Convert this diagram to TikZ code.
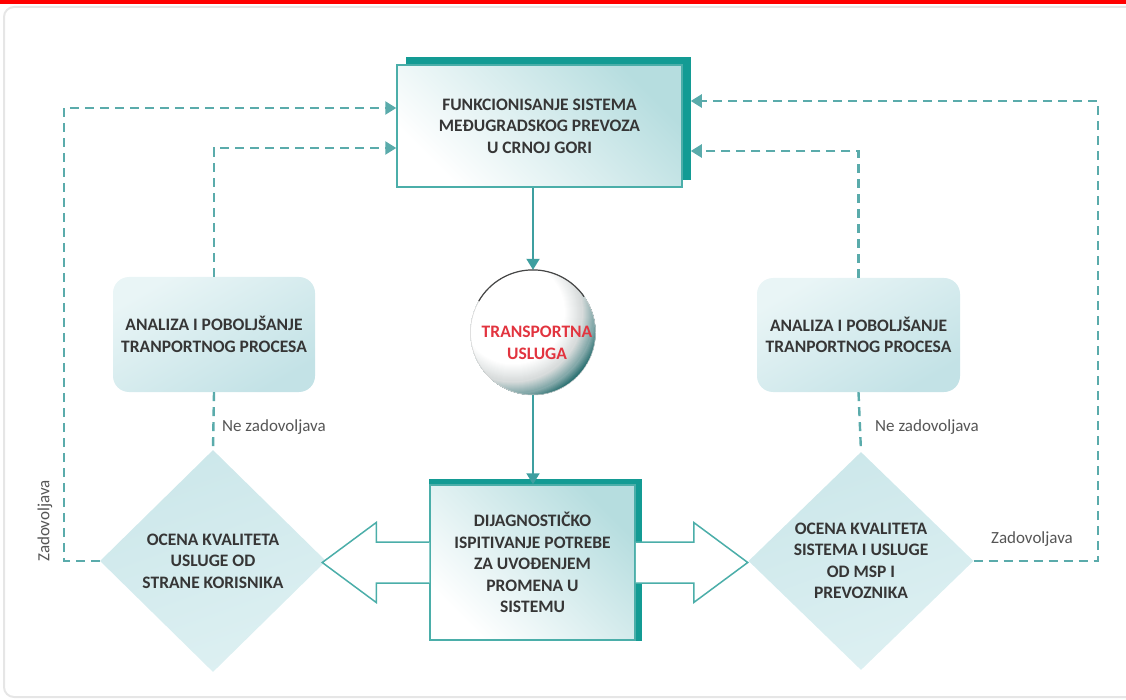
\documentclass[tikz,border=0pt]{standalone}
\usepackage{fontspec}
\setmainfont{Carlito}
\usetikzlibrary{arrows.meta,shapes.geometric,calc,backgrounds}

\definecolor{tealdark}{HTML}{139B94}
\definecolor{boxline}{HTML}{4BAEA9}
\definecolor{boxtint}{HTML}{B6DDDF}
\definecolor{dashline}{HTML}{5AABAB}
\definecolor{flowline}{HTML}{3E9FA0}
\definecolor{ink}{HTML}{363636}
\definecolor{labelink}{HTML}{555555}
\definecolor{servicered}{HTML}{E2343F}
\definecolor{framegray}{HTML}{E6E6E6}
\definecolor{diafill}{HTML}{CCE7EA}
\definecolor{diafillb}{HTML}{DDF0F2}
\definecolor{softtop}{HTML}{E9F5F6}
\definecolor{softbot}{HTML}{C3E2E6}
\definecolor{orbdark}{HTML}{2E7273}
\definecolor{orbmid}{HTML}{86AAAB}
\definecolor{orblight}{HTML}{D8DCDC}

\begin{document}
\begin{tikzpicture}[x=1pt,y=-1pt,
  boxfont/.style={font=\fontsize{17.5}{21.5}\selectfont\bfseries, text=ink, align=center},
  mainbox/.style={boxfont, draw=boxline, line width=1.5pt, shade,
    top color=white, bottom color=boxtint, shading angle=135, inner sep=0pt},
  softbox/.style={boxfont, rounded corners=16pt, shade,
    top color=softtop, bottom color=softbot, shading angle=30, inner sep=0pt},
  decision/.style={boxfont, diamond, shade, top color=diafillb, bottom color=diafill,
    shading angle=200, inner sep=0pt},
  flow/.style={flowline, line width=2pt, -{Triangle[width=13pt,length=11pt]}},
  feedback/.style={dashline, line width=2.4pt, dash pattern=on 9pt off 6pt},
  feedarrow/.style={feedback, -{Triangle[width=13pt,length=11pt]}},
  hollow/.style={draw=boxline, fill=white, line width=1.5pt, line join=miter},
  note/.style={font=\fontsize{17}{20}\selectfont, text=labelink, inner sep=0pt}]

\useasboundingbox (0,0) rectangle (1126,700);

% page frame and top bar
\fill[red] (0,0) rectangle (1126,4.5);
\draw[framegray, line width=2pt, rounded corners=10pt] (4,7) rectangle (1150,697);

% nodes
\node[mainbox, minimum width=285pt, minimum height=122pt] (top) at (539.5,126)
  {FUNKCIONISANJE SISTEMA\\MEĐUGRADSKOG PREVOZA\\U CRNOJ GORI};
\node[circle, minimum size=125pt, inner sep=0pt] (circ) at (533,332.5) {};
\node[mainbox, minimum width=205pt, minimum height=155pt] (low) at (532.5,562.5)
  {DIJAGNOSTIČKO\\ISPITIVANJE POTREBE\\ZA UVOĐENJEM\\PROMENA U\\SISTEMU};
\node[softbox, minimum width=202pt, minimum height=115pt] (lbox) at (214,334.5)
  {ANALIZA I POBOLJŠANJE\\TRANPORTNOG PROCESA};
\node[softbox, minimum width=203pt, minimum height=114pt] (rbox) at (858.5,335)
  {ANALIZA I POBOLJŠANJE\\TRANPORTNOG PROCESA};
\node[decision, minimum width=226pt, minimum height=222pt] (ldia) at (213,561)
  {OCENA KVALITETA\\USLUGE OD\\STRANE KORISNIKA};
\node[decision, minimum width=225pt, minimum height=218pt] (rdia) at (861,561)
  {OCENA KVALITETA\\SISTEMA I USLUGE\\OD MSP I\\PREVOZNIKA};

% thick offset edges behind the two main boxes
\begin{scope}[on background layer]
  \fill[tealdark] ($(top.south west)+(10,-8)$) rectangle ($(top.north east)+(8,-7)$);
  \fill[tealdark] (low.south west) rectangle ($(low.north east)+(6,-5)$);
\end{scope}

% the service sphere: rings of colour around a point up and left of the centre,
% white near that point and dark teal towards the lower right edge
\begin{scope}
  \clip (circ.center) circle[radius=62.5pt];
  \coordinate (glow) at ($(circ.center)+(-20,-20)$);
  \fill[orbdark] (circ.center) circle[radius=62.5pt];
  \foreach \r in {90,89,...,82} {
    \pgfmathtruncatemacro\p{(\r-82)*100/8}
    \fill[orbdark!\p!orbmid] (glow) circle[radius=\r pt];
  }
  \foreach \r in {81,80,...,70} {
    \pgfmathtruncatemacro\p{(\r-70)*100/11}
    \fill[orbmid!\p!orblight] (glow) circle[radius=\r pt];
  }
  \foreach \r in {69,68,...,52} {
    \pgfmathtruncatemacro\p{(\r-52)*100/17}
    \fill[orblight!\p!white] (glow) circle[radius=\r pt];
  }
\end{scope}
\draw[gray!35, line width=0.5pt] (circ.center) circle[radius=62.5pt];
\draw[gray!55!black, line width=1.2pt] (circ.150) arc[start angle=150, end angle=35, radius=62.5pt];
\node[font=\fontsize{17.5}{21.5}\selectfont\bfseries, text=servicered, align=center]
  (circtext) at (537,343) {TRANSPORTNA\\USLUGA};

% main flow
\draw[flow] (circ.north |- top.south) -- (circ.north);
\draw[flow] (circ.south) -- (circ.south |- low.north);

% wide arrows from the diagnostic box
\draw[hollow] ($(low.west)+(0,-20.5)$) -- ++(-53,0) -- ++(0,-19.5) -- ++(-54,40)
  -- ++(54,40) -- ++(0,-19.5) -- ($(low.west)+(0,20.5)$);
\draw[hollow] ($(low.east)+(0,-20.5)$) -- ++(58,0) -- ++(0,-19.5) -- ++(54,40)
  -- ++(-54,40) -- ++(0,-19.5) -- ($(low.east)+(0,20.5)$);

% feedback loops
\draw[feedarrow] (ldia.west) -- ++(-36,0) |- ($(top.west)+(0,-18)$);
\draw[feedarrow] (lbox.north) |- ($(top.west)+(0,22)$);
\draw[feedback] (lbox.south) -- (ldia.north);
\draw[feedarrow] (rbox.north) |- ($(top.east)+(8,25)$);
\draw[feedback] (rbox.south) -- (rdia.north);
\draw[feedarrow] (rdia.east) -- ++(124,0) |- ($(top.east)+(8,-25)$);

% branch labels
\node[note, anchor=west] (lno) at (222,427) {Ne zadovoljava};
\node[note, anchor=west] (rno) at (875,427) {Ne zadovoljava};
\node[note] (ryes) at (1032,539) {Zadovoljava};
\node[note, rotate=90] (lyes) at (45,521) {Zadovoljava};

\end{tikzpicture}
\end{document}
